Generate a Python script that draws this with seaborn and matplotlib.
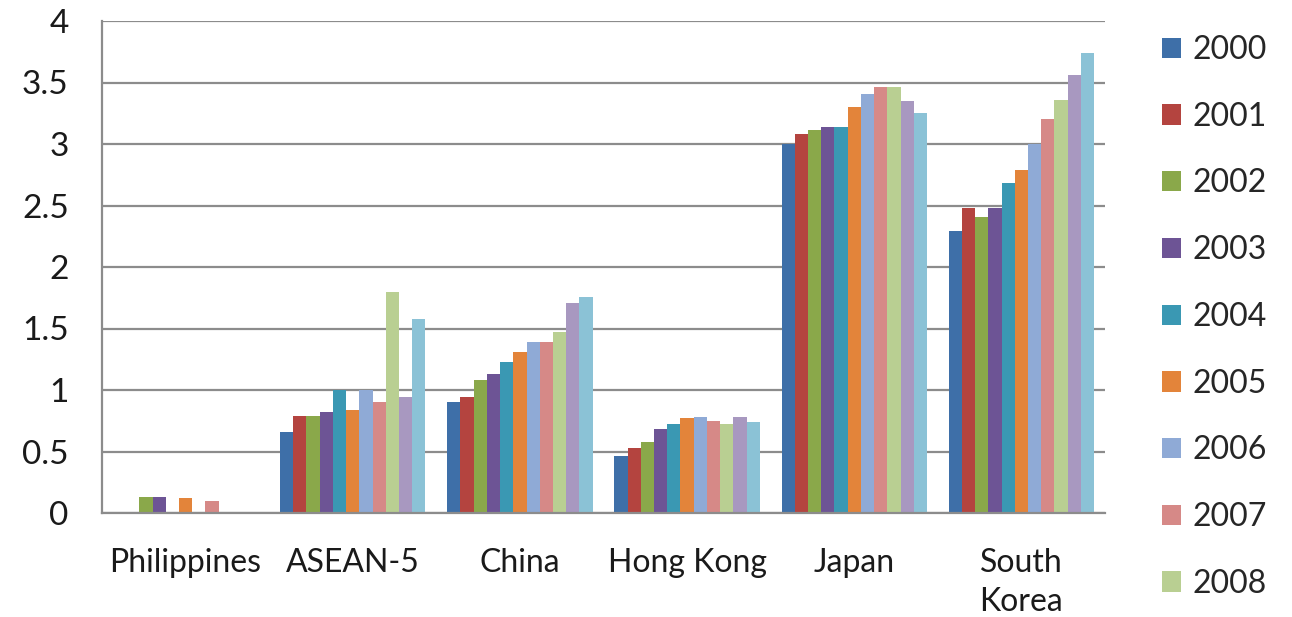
import matplotlib
matplotlib.use("Agg")
import matplotlib.pyplot as plt
from matplotlib.patches import Patch
import numpy as np
import pandas as pd
import seaborn as sns

countries = ['Philippines', 'ASEAN-5', 'China', 'Hong Kong', 'Japan', 'South\nKorea']
years = [str(y) for y in range(2000, 2011)]

# values per country, one per year 2000..2010 (nan = no bar)
philippines = [np.nan, np.nan, 0.13, 0.13, np.nan, 0.12, np.nan, 0.10, np.nan, np.nan, np.nan]
asean5 = [0.66, 0.79, 0.79, 0.82, 1.00, 0.84, 1.00, 0.90, 1.80, 0.94, 1.58]
china = [0.90, 0.94, 1.08, 1.13, 1.23, 1.31, 1.39, 1.39, 1.47, 1.71, 1.76]
hong_kong = [0.46, 0.53, 0.58, 0.68, 0.72, 0.77, 0.78, 0.75, 0.72, 0.78, 0.74]
japan = [3.00, 3.08, 3.11, 3.14, 3.14, 3.30, 3.41, 3.46, 3.46, 3.35, 3.25]
south_korea = [2.29, 2.48, 2.41, 2.48, 2.68, 2.79, 3.00, 3.20, 3.36, 3.56, 3.74]

colors = ['#3E6FA8', '#B4443F', '#8AA84A', '#6D5495', '#3A98B3', '#E3843A',
          '#8FAAD6', '#D68987', '#B9CF92', '#A898C0', '#8BC2D6']

rows = []
for c, vals in zip(countries, [philippines, asean5, china, hong_kong, japan, south_korea]):
    for y, v in zip(years, vals):
        rows.append({'Country': c, 'Year': y, 'Value': v})
df = pd.DataFrame(rows).dropna()

sns.set_style('white')
plt.rcParams['font.family'] = ['Lato', 'DejaVu Sans']

fig = plt.figure(figsize=(12.92, 6.17), dpi=100)
ax = fig.add_axes([102 / 1292, 1 - 513 / 617, (1105 - 102) / 1292, (513 - 21) / 617])

sns.barplot(data=df, x='Country', y='Value', hue='Year', order=countries, hue_order=years,
            palette=colors, saturation=1, width=0.87, gap=0, linewidth=0, ax=ax, legend=False)

ax.set_ylim(0, 4)
ax.set_xlim(-0.5, 5.5)
ax.set_yticks(np.arange(0, 4.01, 0.5))
ax.set_yticklabels(['0', '0.5', '1', '1.5', '2', '2.5', '3', '3.5', '4'])
ax.yaxis.grid(True, color='#8c8c8c', linewidth=1.6)
ax.set_axisbelow(True)
ax.set_xlabel('')
ax.set_ylabel('')
for s in ['top', 'right']:
    ax.spines[s].set_visible(False)
for s in ['left', 'bottom']:
    ax.spines[s].set_color('#8c8c8c')
    ax.spines[s].set_linewidth(1.6)
ax.tick_params(axis='x', length=0, labelsize=23, colors='#1a1a1a', pad=25)
ax.tick_params(axis='y', length=0, labelsize=24, colors='#1a1a1a', pad=24)
for lab in ax.get_xticklabels():
    lab.set_linespacing(1.4)

# legend only shows the first nine years (cut off in the original)
handles = [Patch(facecolor=colors[i], edgecolor='none', label=years[i]) for i in range(9)]
fig.legend(handles=handles, loc='upper left', bbox_to_anchor=(1162 / 1292, 1 - 35 / 617),
           frameon=False, fontsize=23, handlelength=0.6, handleheight=0.6,
           handletextpad=0.35, labelspacing=1.15, borderaxespad=0, borderpad=0)

fig.savefig('out.png', dpi=100)
